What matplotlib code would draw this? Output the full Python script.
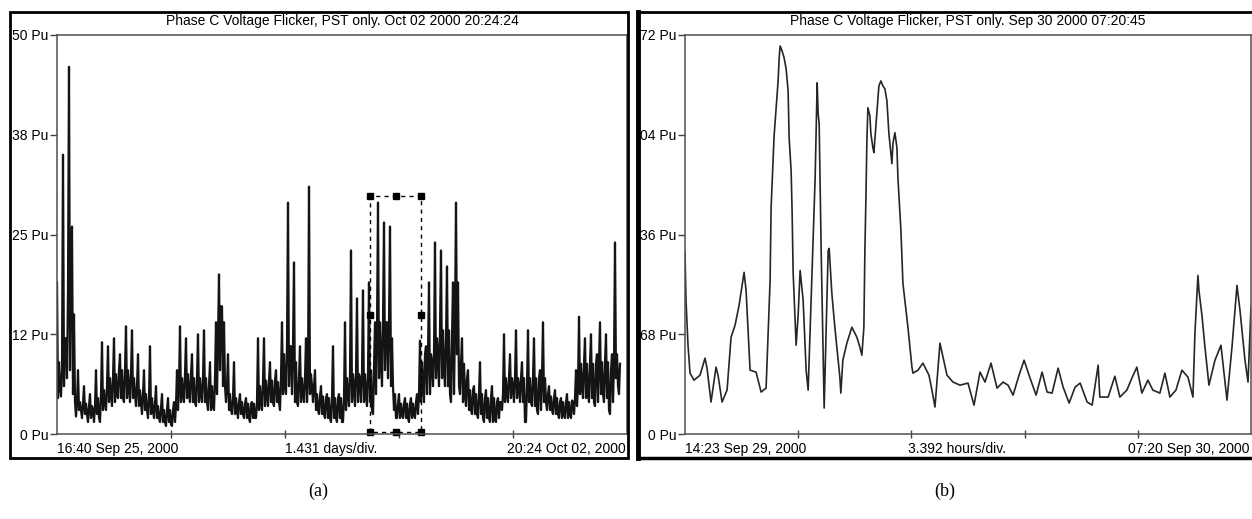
import matplotlib.pyplot as plt
from matplotlib.patches import Rectangle
from matplotlib.lines import Line2D
import numpy as np

plt.rcParams['font.family'] = 'Liberation Sans'
plt.rcParams['font.size'] = 10

W, H = 1252, 519

pst_week = [19, 6, 35, 12, 46, 26, 4, 8, 3, 6,
            2.5, 5, 3, 8, 2, 11.5, 4, 11, 5, 12,
            5, 10, 4.5, 13.5, 6, 13, 5, 10, 4, 8,
            3, 11, 3, 6, 2, 5, 1.5, 4.5, 1.2, 4,
            8, 13.5, 5, 12, 5, 10, 4, 12.5, 5, 13,
            4, 9, 3.5, 14, 20, 16, 6, 10, 3, 9,
            3, 5, 2.5, 4.5, 2, 4, 2, 12, 4, 12,
            5, 9, 4, 8, 4, 14, 6, 29, 11, 21.5,
            4, 11, 5, 12, 31, 6, 8, 3, 6, 2.5,
            5, 2, 11, 2, 5, 1.5, 14, 5, 23, 6,
            17, 7, 18, 5, 19, 3, 14, 29, 9, 26.5,
            14, 26, 6, 2, 5, 2.5, 4.5, 2, 4.5, 2.5,
            5, 11.7, 6, 11, 19, 9, 24, 10, 23, 8,
            21, 5, 19, 29, 6, 12, 5, 8, 3, 6,
            2.5, 9, 2, 5.5, 2, 6, 1.8, 4.5, 4, 12.5,
            5, 10, 6, 13, 6, 9, 1.5, 13, 4, 12,
            3, 8, 14, 4, 6, 3, 5.5, 2.5, 4.5, 2.5,
            5, 2.5, 4, 8, 14.7, 6, 12, 5, 12.5, 4,
            10, 14, 5, 12.5, 3, 10, 24, 6]
# bottom of the dark band at the same positions
pst_week_floor = [4.5, 4.7, 6, 7, 8, 5, 2.2, 3, 2, 2.5,
                  1.5, 2, 1.5, 2.5, 1.5, 3, 3, 4, 3.5, 4,
                  4.5, 4.5, 4, 4.5, 4, 4.5, 3.5, 3.5, 2.5, 3,
                  2, 2.5, 2, 2, 1.5, 1.5, 1, 1.5, 1, 1.5,
                  3, 4, 4, 4.5, 4, 4, 3.5, 4, 4, 4,
                  3, 3, 3, 5, 8, 6, 4, 3, 2.5, 2.5,
                  2, 2.5, 2, 2, 1.5, 2, 2, 3, 3, 3.5,
                  3.5, 4, 3.5, 4, 3, 5, 5, 6, 5, 4,
                  3.5, 4, 4, 4, 5, 4, 3, 2.5, 2.5, 2,
                  2, 1.5, 2, 1.5, 2, 1.5, 3, 3.5, 4, 3.5,
                  4, 4, 4, 3.5, 4, 2.5, 5, 7, 6, 8,
                  7, 6, 3, 2, 2, 2, 2, 1.5, 2, 2,
                  2.5, 4, 4, 5, 5, 6, 7, 6, 7, 6,
                  6, 4, 5, 10, 5, 4, 3.5, 3, 2.5, 2.5,
                  2, 2.5, 1.5, 2, 1.5, 1.5, 1.5, 2, 3, 4,
                  4, 4.5, 4, 4.5, 4, 4, 1.5, 4, 3.5, 3.5,
                  2.5, 3, 4, 3, 3, 2.5, 2.5, 2, 2, 2,
                  2, 2, 2.5, 3.5, 5, 4.5, 4.5, 4, 4.5, 3.5,
                  4, 5, 4, 4.5, 2.5, 4, 7, 5]
# top of the dark band at the same positions
pst_week_core = [9, 8, 12, 18, 21, 15, 4, 4, 3.8, 3.8,
                 3.5, 3.5, 3.5, 4.5, 5, 5.5, 6, 7, 7, 7.5,
                 8, 8, 8, 8, 7.5, 7, 6, 5.5, 5, 5,
                 4.5, 4.5, 3.8, 3.5, 3.2, 3, 3, 3, 3, 3.5,
                 6, 7, 7.5, 7.5, 7.5, 7, 7, 7, 7, 7,
                 6, 6, 7, 12, 16, 14, 6, 5, 4.5, 4.5,
                 4, 4, 3.8, 3.8, 3.8, 3.8, 4, 6, 6.5, 6.7,
                 6.7, 6.7, 6.7, 6.5, 7, 10, 11, 11, 11, 9,
                 7, 7, 7, 7, 7.5, 6, 5, 4.7, 4.7, 4.5,
                 4.5, 4.5, 4.5, 4.5, 4.5, 4.5, 7, 7.5, 7.5, 7.5,
                 7.5, 7.5, 7.5, 7.5, 8, 8, 13, 14, 14, 14,
                 14, 12, 5, 3.8, 3.8, 3.8, 3.8, 3.8, 3.8, 4,
                 5, 9, 10, 10, 10, 10, 12, 13, 13, 12,
                 13, 12, 14, 19, 9, 8.8, 7, 5.5, 5.5, 5,
                 5, 5, 4.5, 4.5, 4.5, 4.5, 4, 4, 5, 7,
                 7, 7, 7, 7, 7, 7, 6, 7, 7, 7,
                 7, 7, 7, 5, 4.7, 4.5, 4.5, 4, 4, 4,
                 4, 4.2, 4.5, 6, 8.8, 8.8, 8.8, 8.8, 8.8, 8.8,
                 8.8, 9, 9, 9, 8, 8.8, 10, 8.8]
week_step = 1.431 * 5 / 190          # days between read values
week_span = 1.431 * 5                # days shown
week_ticks = [0, 12.5, 25, 37.5, 50]
week_ticklabels = ['0 Pu', '12 Pu', '25 Pu', '38 Pu', '50 Pu']
sel_start, sel_end, sel_top = 3.93, 4.57, 29.8

# (b) zoom on Sep 29-30 (hours after 14:23)
day_hours = [0.00, 0.03, 0.09, 0.15, 0.27, 0.45, 0.60, 0.66, 0.78, 0.93,
             0.99, 1.11, 1.26, 1.38, 1.50, 1.62, 1.77, 1.83, 1.95, 2.13,
             2.28, 2.43, 2.55, 2.58, 2.67, 2.79, 2.82, 2.85, 2.91, 2.97,
             3.03, 3.09, 3.12, 3.18, 3.21, 3.24, 3.30, 3.33, 3.39, 3.45,
             3.54, 3.63, 3.69, 3.78, 3.90, 3.96, 3.99, 4.02, 4.08, 4.17,
             4.23, 4.29, 4.32, 4.40, 4.49, 4.64, 4.67, 4.73, 4.85, 5.00,
             5.15, 5.24, 5.30, 5.36, 5.39, 5.42, 5.45, 5.48, 5.54, 5.57,
             5.63, 5.66, 5.72, 5.75, 5.81, 5.87, 5.93, 5.99, 6.05, 6.08,
             6.11, 6.17, 6.20, 6.23, 6.29, 6.35, 6.38, 6.47, 6.53, 6.68,
             6.80, 6.83, 6.98, 7.13, 7.31, 7.40, 7.49, 7.64, 7.85, 8.03,
             8.24, 8.48, 8.66, 8.84, 8.99, 9.17, 9.35, 9.53, 9.68, 9.83,
             10.01, 10.16, 10.34, 10.52, 10.70, 10.85, 11.00, 11.18, 11.33, 11.51,
             11.69, 11.84, 12.05, 12.20, 12.38, 12.43, 12.68, 12.88, 13.03, 13.24,
             13.39, 13.54, 13.69, 13.87, 14.02, 14.23, 14.38, 14.53, 14.71, 14.89,
             15.07, 15.22, 15.28, 15.37, 15.40, 15.49, 15.58, 15.70, 15.88, 16.06,
             16.24, 16.39, 16.54, 16.63, 16.78, 16.87, 16.96]
pst_day = [123.8, 91.1, 60.5, 41.5, 36.7, 40.1, 51.7, 44.9, 21.8, 45.6,
           40.1, 21.8, 29.9, 66.0, 74.1, 87.7, 110.2, 97.9, 43.5, 42.2,
           28.6, 31.3, 104.7, 154.4, 203.3, 240.7, 255.7, 264.5, 261.1, 256.4,
           248.9, 233.9, 202.0, 179.5, 151.0, 110.2, 76.2, 60.5, 80.9, 111.5,
           91.1, 43.5, 29.9, 91.1, 174.8, 239.4, 218.3, 211.5, 125.1, 17.7,
           70.7, 125.1, 126.5, 95.9, 72.8, 38.8, 27.9, 50.3, 61.9, 72.8,
           66.0, 59.2, 53.7, 72.8, 125.1, 159.1, 199.9, 222.4, 216.9, 204.7,
           195.2, 191.8, 210.1, 218.3, 237.3, 240.7, 237.3, 235.3, 227.1, 215.6,
           204.7, 191.1, 184.3, 197.9, 205.4, 195.2, 174.8, 138.7, 102.7, 72.8,
           45.6, 41.5, 43.5, 48.3, 40.1, 29.9, 18.4, 61.9, 40.1, 35.4,
           33.3, 34.7, 19.7, 42.2, 35.4, 48.3, 31.3, 35.4, 33.3, 26.5,
           40.1, 50.3, 38.1, 26.5, 42.2, 28.6, 27.9, 44.9, 32.0, 21.1,
           32.0, 34.7, 21.8, 19.7, 46.9, 25.2, 25.2, 39.4, 25.2, 29.9,
           38.1, 45.6, 27.9, 36.7, 29.9, 27.9, 41.5, 25.2, 29.9, 43.5,
           38.8, 25.2, 68.7, 108.1, 97.9, 80.9, 59.2, 33.3, 50.3, 60.5,
           23.1, 59.2, 101.3, 84.3, 50.3, 35.4, 86.4]
day_span = 3.392 * 5
day_ticks = [0, 68, 136, 204, 272]
day_ticklabels = ['0 Pu', '68 Pu', '36 Pu', '04 Pu', '72 Pu']


def fx(px):
    return px / W


def fy(py):
    return 1 - py / H


def setup(ax, span, div, yticks, ylabels, title, left, mid, right):
    ax.set_xlim(0, span)
    ax.set_ylim(yticks[0], yticks[-1])
    ax.set_xticks([div * k for k in range(1, 5)])
    ax.set_xticklabels([])
    ax.set_yticks(yticks)
    ax.set_yticklabels(ylabels)
    ax.tick_params(axis='y', direction='out', length=5, width=1, pad=1,
                   color='#404040', labelsize=10)
    ax.tick_params(axis='x', direction='inout', length=6, width=1, color='#404040')
    for s in ax.spines.values():
        s.set_color('#505050')
        s.set_linewidth(1.1)
    ax.text(0.5, 1 + 14 / 399, title, transform=ax.transAxes,
            ha='center', va='center', fontsize=10)
    yb = -15 / 399
    ax.text(0, yb, left, transform=ax.transAxes, ha='left', va='center')
    ax.text(0.481, yb, mid, transform=ax.transAxes, ha='center', va='center')
    ax.text(0.997, yb, right, transform=ax.transAxes, ha='right', va='center')


fig = plt.figure(figsize=(W / 100, H / 100), dpi=100)

ax_a = fig.add_axes([fx(57), fy(434), fx(627) - fx(57), fy(35) - fy(434)])
# trace runs value -> band floor -> band top -> next value, like the dense recorder trend
n = len(pst_week)
idx = np.arange(n)
t_week = np.empty(3 * n)
y_week = np.empty(3 * n)
for k, arr in enumerate([pst_week, pst_week_floor, pst_week_core]):
    t_week[k::3] = (idx + k / 3) * week_step
    y_week[k::3] = arr
ax_a.plot(t_week, y_week, color='#141414', lw=1.6)
setup(ax_a, week_span, 1.431, week_ticks, week_ticklabels,
      'Phase C Voltage Flicker, PST only. Oct 02 2000 20:24:24',
      '16:40 Sep 25, 2000', '1.431 days/div.', '20:24 Oct 02, 2000')

# selection box with handles
y0 = 0.2
ax_a.plot([sel_start, sel_start, sel_end, sel_end, sel_start],
          [y0, sel_top, sel_top, y0, y0], color='black', lw=1,
          ls=(0, (3, 3)), clip_on=False)
xm = (sel_start + sel_end) / 2
ym = sel_top / 2
hx = [sel_start, xm, sel_end, sel_start, sel_end, sel_start, xm, sel_end]
hy = [sel_top, sel_top, sel_top, ym, ym, y0, y0, y0]
ax_a.plot(hx, hy, ls='none', marker='s', ms=4.5, color='black', clip_on=False)

ax_b = fig.add_axes([fx(685), fy(434), fx(1251) - fx(685), fy(35) - fy(434)])
ax_b.plot(day_hours, pst_day, color='#262626', lw=1.2)
setup(ax_b, day_span, 3.392, day_ticks, day_ticklabels,
      'Phase C Voltage Flicker, PST only. Sep 30 2000 07:20:45',
      '14:23 Sep 29, 2000', '3.392 hours/div.', '07:20 Sep 30, 2000')

# screenshot frames
fig.add_artist(Rectangle((fx(10), fy(458)), fx(628) - fx(10), fy(12) - fy(458),
                         fill=False, ec='black', lw=2, transform=fig.transFigure))
for xs, ys, lw in [([638, 638], [12, 458], 3.5),
                   ([638, 1252], [12, 12], 2),
                   ([638, 1252], [458, 458], 2.5)]:
    fig.add_artist(Line2D([fx(v) for v in xs], [fy(v) for v in ys],
                          color='black', lw=lw, transform=fig.transFigure))

fig.text(fx(318), fy(491), '(a)', ha='center', va='center',
         family='Liberation Serif', fontsize=13)
fig.text(fx(945), fy(491), '(b)', ha='center', va='center',
         family='Liberation Serif', fontsize=13)

fig.savefig('out.png', dpi=100)
